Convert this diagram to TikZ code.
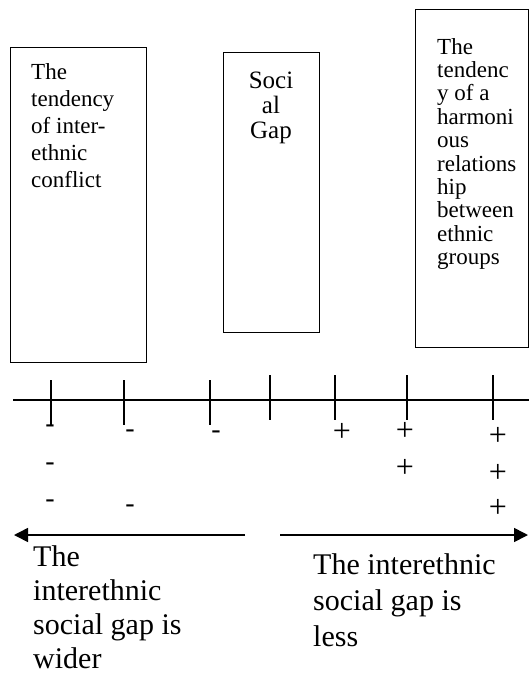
\documentclass[tikz,border=0pt]{standalone}
\usepackage{fontspec}
\setmainfont{Liberation Serif}
\usetikzlibrary{arrows.meta, positioning}

\begin{document}
\begin{tikzpicture}[x=1pt, y=-1pt,
  gapbox/.style = {draw, line width=1.4pt, anchor=north west, inner sep=0pt},
  boxtext/.style = {anchor=north west, inner sep=0pt, align=left, font=\fontsize{23}{27}\selectfont},
  signtext/.style = {inner sep=0pt, font=\fontsize{28}{28}\selectfont},
  sidetext/.style = {anchor=north west, inner sep=0pt, align=left, font=\fontsize{30}{34}\selectfont},
  axisline/.style = {line width=1.6pt},
  tickline/.style = {line width=2pt},
  arrow/.style = {-{Triangle[length=14pt, width=14pt]}, line width=1.6pt}
]
\useasboundingbox (0,0) rectangle (529,675);
\node[gapbox, minimum width=136pt, minimum height=315pt] (conflict_box) at (10,47) {};
\node[boxtext] (conflict_text) at (31,63) {The\\tendency\\of inter-\\ethnic\\conflict};
\node[gapbox, minimum width=96pt, minimum height=280pt] (gap_box) at (223,52) {};
\node[boxtext, anchor=north, align=center, font=\fontsize{25}{25}\selectfont] (gap_text) at (271,72) {Soci\\al\\Gap};
\node[gapbox, minimum width=113pt, minimum height=338pt] (harmony_box) at (415,9) {};
\node[boxtext, font=\fontsize{23}{23.4}\selectfont] (harmony_text) at (437,38) {The\\tendenc\\y of a\\harmoni\\ous\\relations\\hip\\between\\ethnic\\groups};
\coordinate (axis_w) at (13,400);
\coordinate (axis_e) at (529,400);
\draw[axisline] (axis_w) -- (axis_e);
\foreach \x/\t/\b in {51/380/425, 124/380/425, 210/380/425, 270/375/420, 335/375/420, 407/375/420, 493/375/420}
  \draw[tickline] (\x,\t) -- (\x,\b);
\foreach \x/\y [count=\i] in {50/429, 130/434, 216/435, 50/467, 50/504, 130/509}
  \node[signtext] (minus\i) at (\x,\y) {-};
\foreach \x/\y [count=\i] in {342/432, 405/431, 405/468, 498/436, 498/473, 498/508}
  \node[signtext, font=\fontsize{32}{32}\selectfont] (plus\i) at (\x,\y) {+};
\coordinate (wide_start) at (245,535);
\coordinate (wide_end) at (14,535);
\coordinate (less_start) at (280,535);
\coordinate (less_end) at (528,535);
\draw[arrow] (wide_start) -- (wide_end);
\draw[arrow] (less_start) -- (less_end);
\node[sidetext] (wide_text) at (33,545) {The\\interethnic\\social gap is\\wider};
\node[sidetext, font=\fontsize{30}{36}\selectfont] (less_text) at (313,553) {The interethnic\\social gap is\\less};
\end{tikzpicture}
\end{document}
